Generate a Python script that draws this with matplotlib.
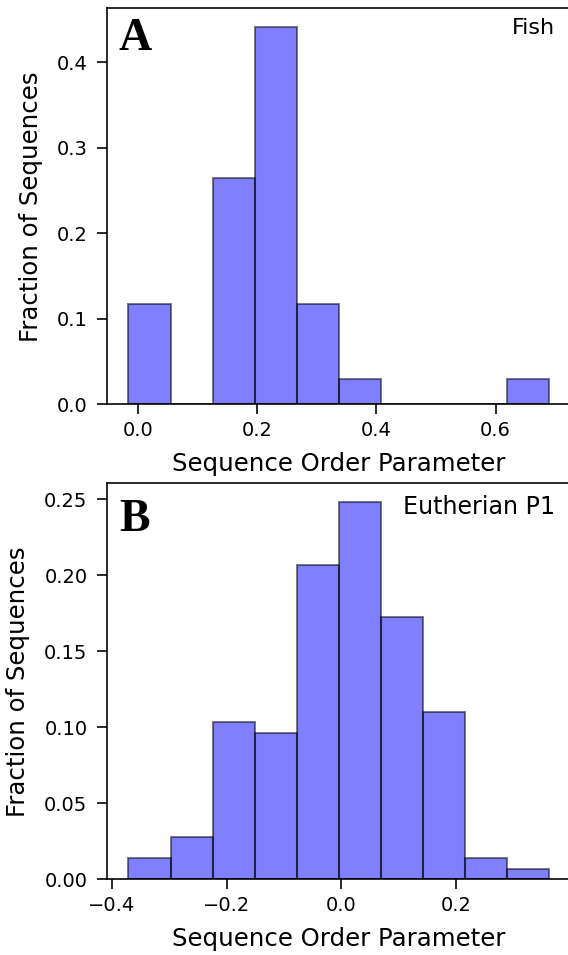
import numpy as np
import matplotlib
matplotlib.use('Agg')
import matplotlib.pyplot as plt

# histogram counts per bin (10 equal bins between the edges below)
fish_counts = [4, 0, 9, 15, 4, 1, 0, 0, 0, 1]
fish_range = (-0.016, 0.690)

eutherian_counts = [2, 4, 15, 14, 30, 36, 25, 16, 2, 1]
eutherian_range = (-0.371, 0.362)

panel_letters = ['A', 'B']
panel_names = ['Fish', 'Eutherian P1']
y_ticks_top = [0.0, 0.1, 0.2, 0.3, 0.4]
y_ticks_bottom = [0.00, 0.05, 0.10, 0.15, 0.20, 0.25]

k = 1.46  # scale of fonts / lines
plt.rcParams['font.family'] = 'DejaVu Sans'
plt.rcParams['xtick.labelsize'] = 14
plt.rcParams['ytick.labelsize'] = 14
plt.rcParams['axes.labelsize'] = 12*k
plt.rcParams['axes.linewidth'] = 0.8*k
plt.rcParams['xtick.major.width'] = 0.8*k
plt.rcParams['ytick.major.width'] = 0.8*k
plt.rcParams['xtick.major.size'] = 7.2
plt.rcParams['ytick.major.size'] = 7.2
plt.rcParams['xtick.major.pad'] = 4.6
plt.rcParams['ytick.major.pad'] = 7.2

fig = plt.figure(figsize=(5.68, 9.55), dpi=100)
ax1 = fig.add_axes([0.1891, 0.5766, 0.8151, 0.4147])
ax2 = fig.add_axes([0.1891, 0.0793, 0.8151, 0.4147])

def draw_hist(ax, counts, rng, name, letter, name_fs, name_y, letter_y):
	counts = np.array(counts, dtype=float)
	frac = counts/counts.sum()
	edges = np.linspace(rng[0], rng[1], len(counts)+1)
	ax.hist(edges[:-1], bins=edges, weights=frac, color='blue', alpha=0.5,
			edgecolor='black', linewidth=1.0*k)
	ax.set_xlabel('Sequence Order Parameter', labelpad=9)
	ax.set_ylabel('Fraction of Sequences', labelpad=10)
	ax.text(0.967, name_y, name, transform=ax.transAxes, ha='right', va='top',
			fontsize=name_fs)
	ax.text(0.025, letter_y, letter, transform=ax.transAxes, ha='left', va='top',
			fontsize=33, fontweight='bold', family='Liberation Serif')

draw_hist(ax1, fish_counts, fish_range, panel_names[0], panel_letters[0], 16, 0.975, 0.975)
ax1.set_yticks(y_ticks_top)
ax1.set_xticks([0.0, 0.2, 0.4, 0.6])

draw_hist(ax2, eutherian_counts, eutherian_range, panel_names[1], panel_letters[1], 11.7*k, 0.97, 0.96)
ax2.set_yticks(y_ticks_bottom)
ax2.set_xticks([-0.4, -0.2, 0.0, 0.2])

fig.savefig('out.png', dpi=100)
